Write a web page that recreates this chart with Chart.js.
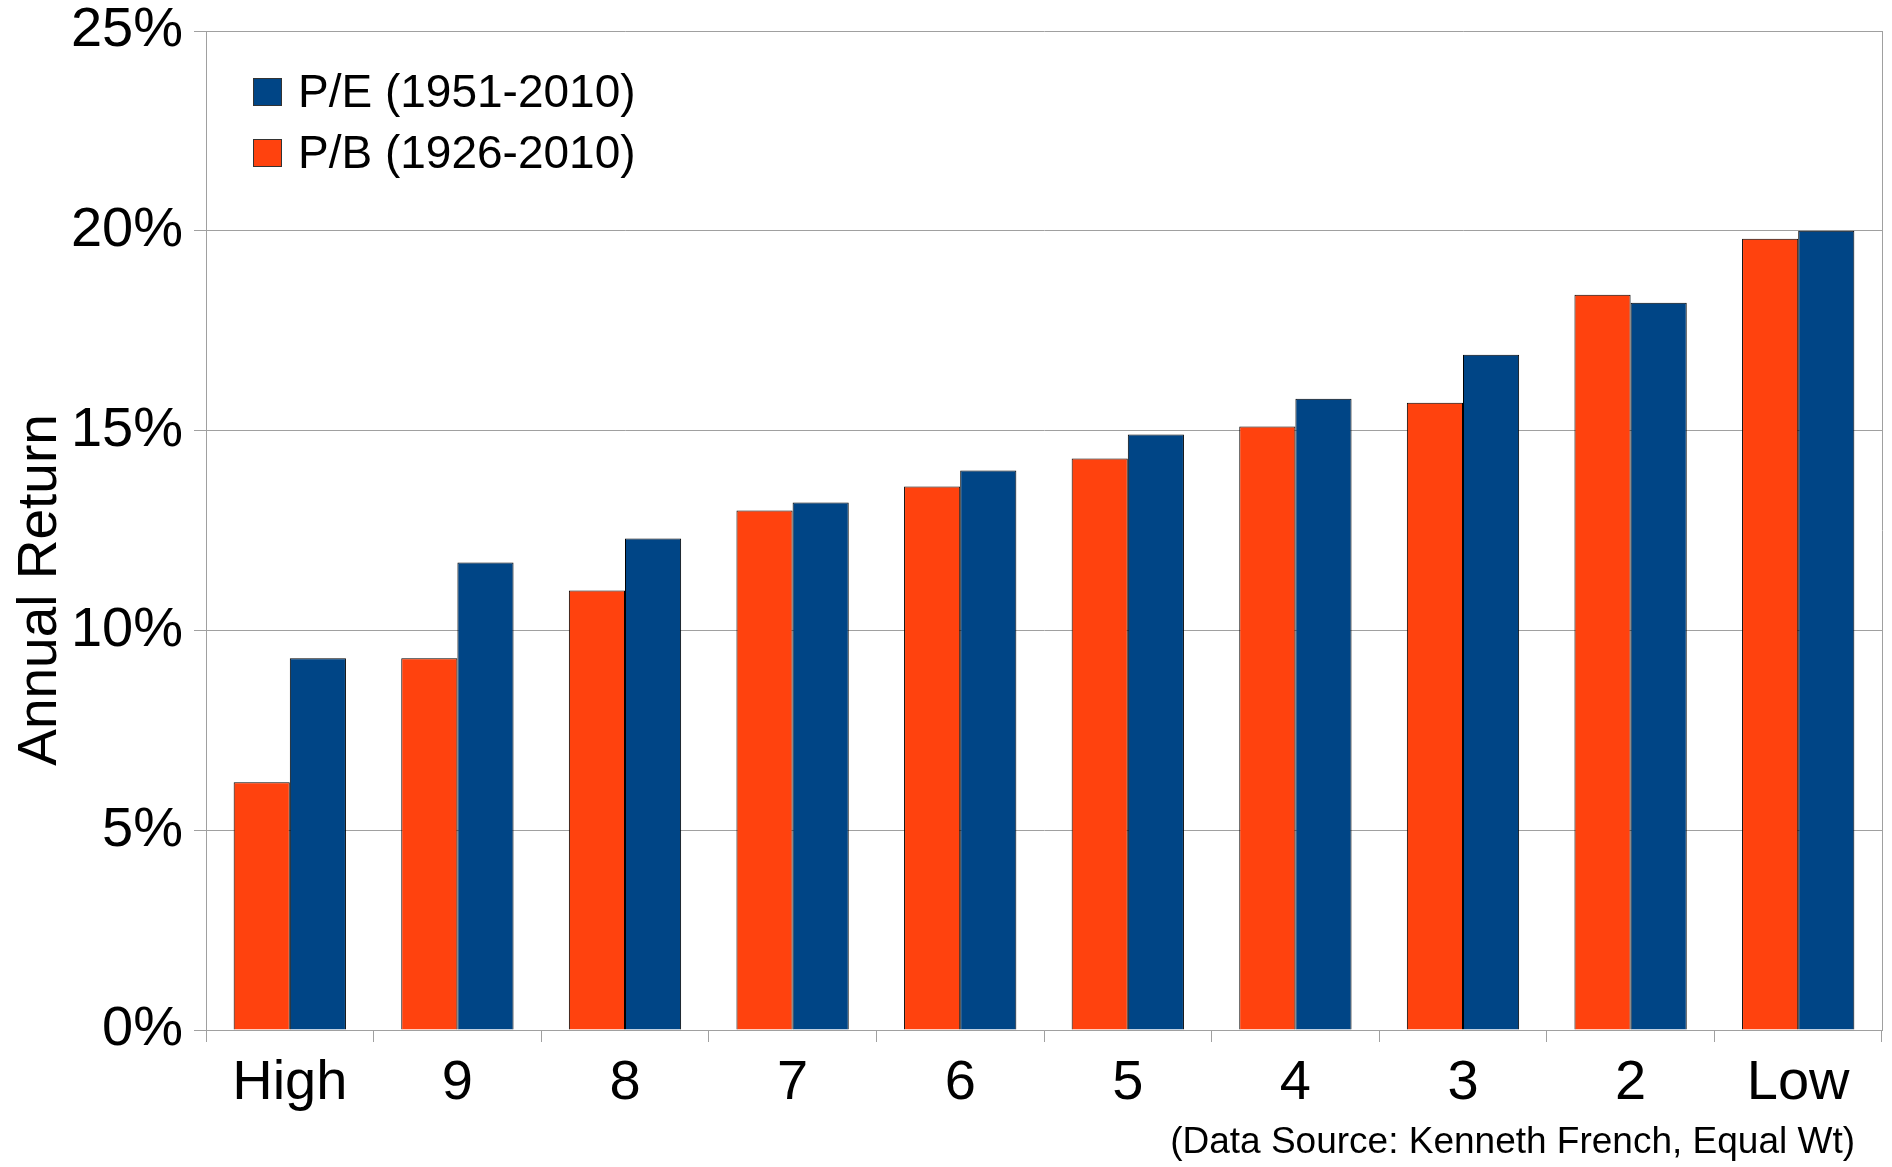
<!DOCTYPE html>
<html>
<head>
<meta charset="utf-8">
<script src="https://cdn.jsdelivr.net/npm/chart.js@4/dist/chart.umd.min.js"></script>
<style>
  body { margin: 0; background: #fff; }
  canvas { display: block; }
</style>
</head>
<body>
<canvas id="grafico" width="1892" height="1167"></canvas>
<script>
// Categorias (decis de valuation)
var categorias = ['High', '9', '8', '7', '6', '5', '4', '3', '2', 'Low'];

// Retornos anuais (%)
var retornoPB = [6.2, 9.3, 11.0, 13.0, 13.6, 14.3, 15.1, 15.7, 18.4, 19.8];
var retornoPE = [9.3, 11.7, 12.3, 13.2, 14.0, 14.9, 15.8, 16.9, 18.2, 20.0];

var rotuloPB = 'P/B (1926-2010)';
var rotuloPE = 'P/E (1951-2010)';
var tituloY = 'Annual Return';
var fonte = '(Data Source: Kenneth French, Equal Wt)';

var corPB = '#ff420e';
var corPE = '#004586';
var corGrade = '#a0a0a0';
var familia = '"Liberation Sans", Arial, sans-serif';

// Desenha borda direita, título do eixo Y, legenda e fonte dos dados
var extras = {
  id: 'extras',
  afterDraw: function(chart) {
    var ctx = chart.ctx;
    var area = chart.chartArea;
    ctx.save();

    // borda direita da área do gráfico
    ctx.strokeStyle = corGrade;
    ctx.lineWidth = 1;
    ctx.beginPath();
    ctx.moveTo(area.right + 0.5, area.top);
    ctx.lineTo(area.right + 0.5, area.bottom);
    ctx.stroke();

    // título do eixo Y
    ctx.fillStyle = '#000';
    ctx.font = '55px ' + familia;
    ctx.textAlign = 'center';
    ctx.textBaseline = 'alphabetic';
    ctx.translate(56, 590);
    ctx.rotate(-Math.PI / 2);
    ctx.fillText(tituloY, 0, 0);
    ctx.setTransform(1, 0, 0, 1, 0, 0);

    // legenda
    var itens = [
      { texto: rotuloPE, cor: corPE, y: 78 },
      { texto: rotuloPB, cor: corPB, y: 139 }
    ];
    ctx.font = '46px ' + familia;
    ctx.textAlign = 'left';
    ctx.textBaseline = 'middle';
    itens.forEach(function(item) {
      ctx.fillStyle = item.cor;
      ctx.fillRect(253, item.y, 29, 28);
      ctx.strokeStyle = '#333';
      ctx.strokeRect(253.5, item.y + 0.5, 28, 27);
      ctx.fillStyle = '#000';
      ctx.fillText(item.texto, 298, item.y + 16);
    });

    // fonte dos dados
    ctx.font = '37px ' + familia;
    ctx.textAlign = 'right';
    ctx.textBaseline = 'alphabetic';
    ctx.fillText(fonte, 1855, 1153);

    ctx.restore();
  }
};

var grafico = new Chart(document.getElementById('grafico').getContext('2d'), {
  type: 'bar',
  data: {
    labels: categorias,
    datasets: [{
      label: rotuloPB,
      data: retornoPB,
      backgroundColor: corPB,
      borderColor: '#000',
      borderWidth: 1
    }, {
      label: rotuloPE,
      data: retornoPE,
      backgroundColor: corPE,
      borderColor: '#000',
      borderWidth: 1
    }]
  },
  options: {
    responsive: false,
    animation: false,
    categoryPercentage: 0.67,
    barPercentage: 1.0,
    layout: {
      padding: { top: 31, right: 10, left: 0, bottom: 0 }
    },
    plugins: {
      legend: { display: false },
      tooltip: { enabled: false }
    },
    scales: {
      x: {
        afterFit: function(scale) {
          scale.height = 137;
          scale.paddingLeft = 0;
          scale.paddingRight = 0;
        },
        grid: {
          offset: true,
          drawOnChartArea: false,
          color: corGrade,
          tickLength: 12
        },
        border: { color: corGrade },
        ticks: {
          color: '#000',
          padding: 14,
          font: { family: familia, size: 56, lineHeight: 1 }
        }
      },
      y: {
        min: 0,
        max: 25,
        afterFit: function(scale) {
          scale.width = 206;
          scale.paddingTop = 0;
          scale.paddingBottom = 0;
        },
        grid: {
          color: corGrade,
          tickLength: 12
        },
        border: { color: corGrade },
        ticks: {
          stepSize: 5,
          color: '#000',
          padding: 11,
          font: { family: familia, size: 56, lineHeight: 1 },
          callback: function(valor) { return valor + '%'; }
        }
      }
    }
  },
  plugins: [extras]
});
</script>
</body>
</html>
